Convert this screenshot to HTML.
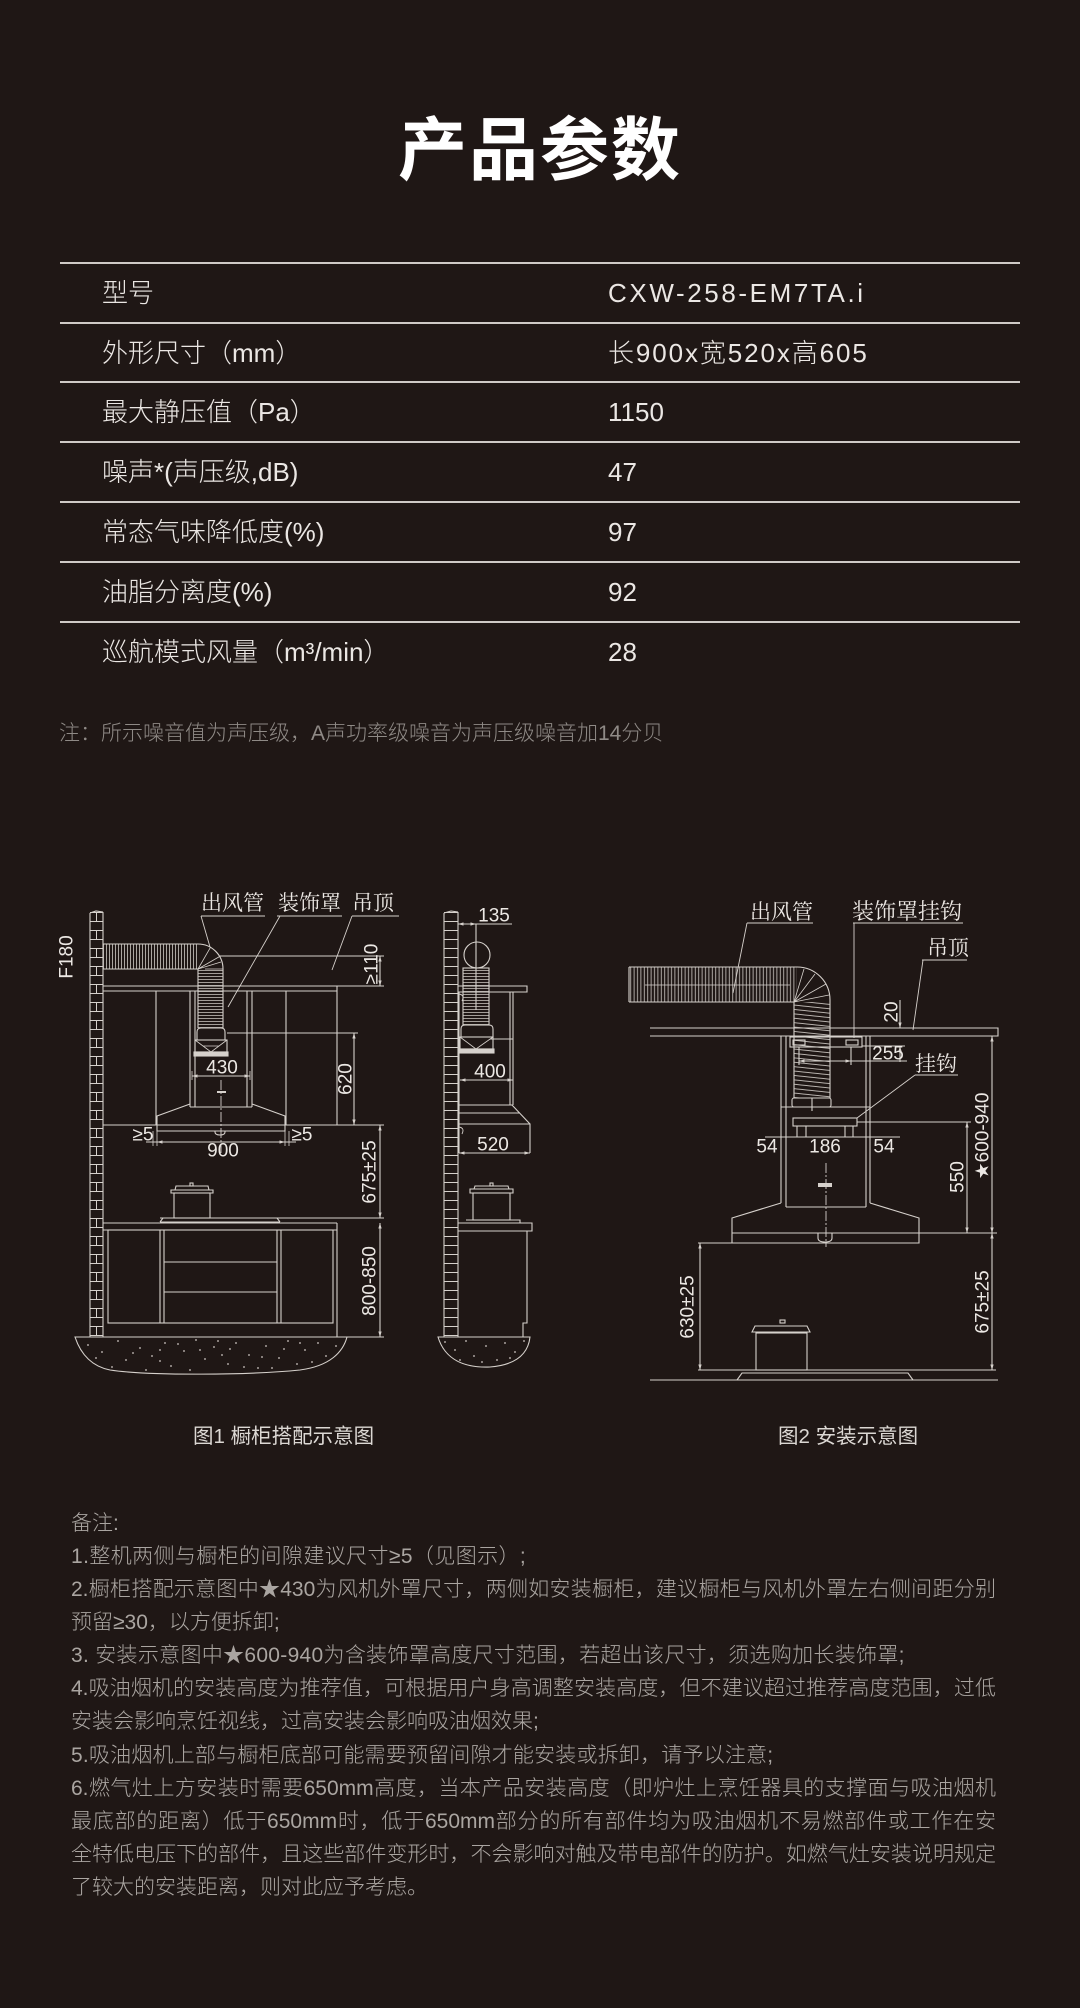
<!DOCTYPE html>
<html><head><meta charset="utf-8"><style>
html,body{margin:0;padding:0;background:#1f1715;}
body{width:1080px;height:2008px;position:relative;overflow:hidden;font-family:"Liberation Sans","Noto Sans CJK SC",sans-serif;}
.t{position:absolute;left:0;width:1080px;top:116px;height:70px;line-height:70px;text-align:center;color:#fff;font-size:69px;font-weight:bold;font-family:"Liberation Sans","Noto Sans CJK SC",sans-serif;letter-spacing:2px}
.hl{position:absolute;left:60px;width:960px;height:1.5px;background:#cfcac6}
.r{position:absolute;height:60px;line-height:60px;font-size:26px;color:#ebe7e4;font-weight:300;white-space:nowrap}
.lab{left:102px}.val{left:608px}
.note{position:absolute;left:59px;top:719px;line-height:30px;font-size:21px;color:#8f8a86;font-weight:300;white-space:nowrap}
.cap{position:absolute;top:1422px;line-height:30px;font-size:20.5px;color:#dcd8d4;white-space:nowrap}
.n{position:absolute;left:71px;height:33px;line-height:33px;font-size:21px;color:#aaa5a1;font-weight:300;white-space:nowrap}
.j{width:925px;text-align:justify;text-align-last:justify}
</style></head><body>
<div class="t">产品参数</div>

<div class="hl" style="top:262px"></div>
<div class="hl" style="top:322px"></div>
<div class="hl" style="top:381px"></div>
<div class="hl" style="top:441px"></div>
<div class="hl" style="top:501px"></div>
<div class="hl" style="top:561px"></div>
<div class="hl" style="top:621px"></div>

<div class="r lab" style="top:263px">型号</div><div class="r val" style="top:263px;letter-spacing:2.6px">CXW-258-EM7TA.i</div>
<div class="r lab" style="top:323px">外形尺寸（mm）</div><div class="r val" style="top:323px;letter-spacing:1.9px">长900x宽520x高605</div>
<div class="r lab" style="top:382px">最大静压值（Pa）</div><div class="r val" style="top:382px">1150</div>
<div class="r lab" style="top:442px">噪声*(声压级,dB)</div><div class="r val" style="top:442px">47</div>
<div class="r lab" style="top:502px">常态气味降低度(%)</div><div class="r val" style="top:502px">97</div>
<div class="r lab" style="top:562px">油脂分离度(%)</div><div class="r val" style="top:562px">92</div>
<div class="r lab" style="top:622px">巡航模式风量（m³/min）</div><div class="r val" style="top:622px">28</div>

<div class="note">注：所示噪音值为声压级，A声功率级噪音为声压级噪音加14分贝</div>

<svg width="1080" height="2008" viewBox="0 0 1080 2008" style="position:absolute;left:0;top:0">
<defs>
<marker id="a" viewBox="0 0 10 10" refX="10" refY="5" markerWidth="5" markerHeight="5" orient="auto-start-reverse"><path d="M0,2 L10,5 L0,8z" fill="#d6d1cc"/></marker>
<pattern id="lad1" x="90" y="912" width="13" height="18" patternUnits="userSpaceOnUse"><path d="M0,0.5H13M0,9.5H13M6.5,0.5V9.5" stroke="#d6d1cc" stroke-width="1" fill="none"/></pattern>
<pattern id="lad2" x="444" y="912" width="14" height="9" patternUnits="userSpaceOnUse"><path d="M0,0.5H14" stroke="#d6d1cc" stroke-width="1" fill="none"/></pattern>
<pattern id="hv" x="0" y="0" width="3" height="50" patternUnits="userSpaceOnUse"><path d="M1.5,0V50" stroke="#cfcac5" stroke-width="0.8"/></pattern>
<pattern id="hh" x="0" y="0" width="50" height="3" patternUnits="userSpaceOnUse"><path d="M0,1.5H50" stroke="#cfcac5" stroke-width="0.8"/></pattern>
<pattern id="hv2" x="0" y="0" width="3.4" height="50" patternUnits="userSpaceOnUse"><path d="M1.7,0V50" stroke="#cfcac5" stroke-width="0.8"/></pattern>
<pattern id="hh2" x="0" y="0" width="50" height="4.4" patternUnits="userSpaceOnUse" patternTransform="skewY(6)"><path d="M0,2H50" stroke="#cfcac5" stroke-width="0.8"/></pattern>
</defs>

<g stroke="#d6d1cc" stroke-width="1.1" fill="none">
<!-- ===== FIG 1 front ===== -->
<rect x="90" y="912" width="13" height="425" fill="url(#lad1)" stroke="none"/>
<path d="M90,913 L90,1337 M103,912 L103,1337 M90,913 L96,911 L103,912"/>
<rect x="103" y="944" width="95" height="25" fill="url(#hv)" stroke="none"/>
<path d="M103,944 H198 A25,25 0 0 1 223,969 V1028 M103,969 H198 V1028"/>
<path d="M198,969 L219.6,956.5 M198,969 L210.5,947.3 M198,969 L221,962 M205,969 L223,969" stroke-width="0.8"/>
<rect x="198" y="969" width="25" height="59" fill="url(#hh)" stroke="none"/>
<path d="M197,1040 V1032 Q197,1028 201,1028 H221 Q225,1028 225,1032 V1040"/>
<rect x="195" y="1040" width="32" height="12"/>
<path d="M195,1040 L211,1052 L227,1040 M203,1046 H219" stroke-width="0.8"/>
<rect x="194" y="1052" width="34" height="4" fill="#d6d1cc"/>
<path d="M103,986 H384 M103,991 H337"/>
<path d="M220,956 H384"/>
<line x1="380" y1="956" x2="380" y2="986" marker-start="url(#a)" marker-end="url(#a)"/>
<path d="M156,991 V1125 M190,991 V1107 M195,991 V1107 M247,991 V1107 M252,991 V1107 M190,1107 H252"/>
<path d="M190,1104 L157,1116 V1125 M252,1104 L285,1116 V1125"/>
<path d="M286,991 V1125 M337,986 V1125"/>
<path d="M103,1125 H384 M157,1125 V1131 H285 V1125"/>
<path d="M215,1131 V1132 Q215,1135 220,1135 Q225,1135 225,1132 V1131"/>
<path d="M221,1080 V1153" stroke-dasharray="10 2 2 2" stroke-width="0.9"/>
<rect x="217" y="1091" width="9" height="2" fill="#d6d1cc" stroke="none"/>
<path d="M227,1033 H358"/>
<line x1="354" y1="1033" x2="354" y2="1125" marker-start="url(#a)" marker-end="url(#a)"/>
<path d="M192,1071 V1080 M250,1071 V1080" stroke-width="0.8"/>
<line x1="192" y1="1076" x2="250" y2="1076" marker-start="url(#a)" marker-end="url(#a)"/>
<path d="M153,1131 V1146 M157,1131 V1146 M285,1131 V1146 M289,1131 V1146" stroke-width="0.8"/>
<line x1="157" y1="1142" x2="285" y2="1142" marker-start="url(#a)" marker-end="url(#a)"/>
<path d="M146,1142 H157 M285,1142 H296"/>
<line x1="380" y1="1125" x2="380" y2="1218" marker-start="url(#a)" marker-end="url(#a)"/>
<line x1="380" y1="1223" x2="380" y2="1337" marker-start="url(#a)" marker-end="url(#a)"/>
<path d="M160,1218 H384 M347,1337 H384"/>
<path d="M160,1222 L163,1218 M277,1218 L280,1222 M160,1222 H280"/>
<rect x="174" y="1193" width="36" height="25"/>
<path d="M171,1193 V1190 H213 V1193 Z M175,1190 L176,1186 H208 L209,1190"/>
<rect x="190" y="1183" width="3" height="3"/>
<path d="M103,1223 H337 M103,1230 H337"/>
<rect x="108" y="1230" width="225" height="93"/>
<path d="M160,1230 V1323 M164,1230 V1323 M277,1230 V1323 M281,1230 V1323 M164,1262 H277 M164,1292 H277 M337,1223 V1337"/>
<path d="M75,1337 H347 C343,1352 330,1366 300,1370 C250,1375 150,1376 110,1370 C90,1366 80,1352 75,1337 Z"/>

<!-- ===== FIG 1 side ===== -->
<rect x="444" y="912" width="14" height="425" fill="url(#lad2)" stroke="none"/>
<path d="M444,913 V1337 M458,912 V1337 M444,913 L451,911 L458,912"/>
<line x1="458" y1="924" x2="476" y2="924" marker-start="url(#a)" marker-end="url(#a)"/>
<path d="M476,924 H512 M476,924 V1010"/>
<circle cx="477" cy="955" r="13"/>
<rect x="463" y="968" width="26" height="57" fill="url(#hh)"/>
<path d="M458,986 H527 V992 H458"/>
<path d="M510,992 V1105 M513,992 V1105"/>
<path d="M461,1037 V1029 Q461,1025 465,1025 H489 Q493,1025 493,1029 V1037"/>
<rect x="460" y="1037" width="33" height="12"/>
<path d="M460,1037 L476,1049 L493,1037" stroke-width="0.8"/>
<rect x="459" y="1049" width="35" height="4" fill="#d6d1cc"/>
<path d="M490,1039 H513"/>
<line x1="460" y1="1080" x2="513" y2="1080" marker-start="url(#a)" marker-end="url(#a)"/>
<path d="M459,992 V1153 M459,1105 H512 L530,1124 M459,1113 H520 M459,1124 H530 V1153"/>
<line x1="459" y1="1153" x2="530" y2="1153" marker-start="url(#a)" marker-end="url(#a)"/>
<path d="M459,994 Q465,995 462,1001 M459,1127 Q465,1128 462,1134" stroke-width="0.9"/>
<rect x="473" y="1193" width="37" height="27"/>
<path d="M470,1193 V1189 H513 V1193 Z M474,1189 L475,1186 H508 L509,1189"/>
<rect x="490" y="1183" width="3" height="3"/>
<path d="M466,1220 H520 V1223"/>
<path d="M458,1223 H532 V1231 H458"/>
<path d="M527,1231 V1323 H523 V1337"/>
<path d="M438,1337 H530 C528,1355 515,1365 490,1367 C465,1368 445,1360 438,1337 Z"/>

<path d="M201,916 H265 M277,916 H342 M352,916 H399"/>
<path d="M201,916 L210,947 M280,916 L228,1007 M352,916 L332,970" stroke-width="0.9"/>

<!-- ===== FIG 2 ===== -->
<path d="M747,923 H813 M853,923 H963 M922,960 H967 M915,1075 H958"/>
<path d="M747,923 L733,993 M854,923 V1038 M923,960 L913,1030 M915,1075 L857,1118" stroke-width="0.9"/>
<rect x="629" y="967" width="168" height="35" fill="url(#hv2)" stroke="none"/>
<path d="M629,967 H797 A33,33 0 0 1 830,1000 V1098 M629,1002 H794 V1098 M629,967 V1002"/>
<path d="M645,985 H790" stroke-width="0.7"/>
<path d="M794,1002 L826,984 M794,1002 L815,974 M794,1002 L804,969 M794,1002 L829,995" stroke-width="0.8"/>
<rect x="794" y="1002" width="36" height="96" fill="url(#hh2)" stroke="none"/>
<rect x="792" y="1098" width="39" height="9" rx="2"/>
<path d="M650,1028 H998 V1036 H650"/>
<path d="M781,1036 V1203 M786,1036 V1207 M866,1036 V1207 M870,1036 V1203"/>
<rect x="790" y="1037" width="72" height="10"/>
<rect x="793" y="1040" width="12" height="5"/><rect x="846" y="1040" width="12" height="5"/>
<path d="M799,1047 V1065 M851,1047 V1065"/>
<line x1="799" y1="1061" x2="851" y2="1061" marker-start="url(#a)" marker-end="url(#a)"/>
<path d="M851,1061 H907 M862,1046 H905"/>
<line x1="900" y1="1000" x2="900" y2="1028" marker-end="url(#a)"/>
<line x1="900" y1="1062" x2="900" y2="1046" marker-end="url(#a)"/>
<path d="M781,1107 H870 M812,1098 V1111"/>
<rect x="793" y="1118" width="64" height="8"/>
<path d="M797,1126 V1137 M806,1126 V1137 M845,1126 V1137 M853,1126 V1137"/>
<path d="M765,1137 H900" stroke-width="0.9"/>
<path d="M857,1122 H971"/>
<rect x="818" y="1183" width="14" height="4" fill="#d6d1cc" stroke="none"/>
<path d="M826,1163 V1247" stroke-dasharray="10 2 2 2" stroke-width="0.9"/>
<path d="M781,1203 L732,1218 V1243 H919 V1218 L870,1203 M786,1207 H866"/>
<path d="M732,1233 H997"/>
<path d="M818,1233 V1238 Q818,1242 825,1242 Q832,1242 832,1238 V1233"/>
<line x1="967" y1="1122" x2="967" y2="1233" marker-start="url(#a)" marker-end="url(#a)"/>
<line x1="992" y1="1036" x2="992" y2="1233" marker-start="url(#a)" marker-end="url(#a)"/>
<line x1="992" y1="1233" x2="992" y2="1370" marker-start="url(#a)" marker-end="url(#a)"/>
<path d="M698,1243 H732"/>
<line x1="700" y1="1243" x2="700" y2="1370" marker-start="url(#a)" marker-end="url(#a)"/>
<rect x="780" y="1320" width="5" height="3"/>
<path d="M752,1332 L755,1326 H807 L810,1332 Z"/>
<rect x="756" y="1333" width="51" height="37"/>
<path d="M737,1380 L742,1373 H908 L913,1380"/>
<path d="M698,1370 H996 M650,1380 H998"/>
</g>

<g fill="#cfc9c4">
<circle cx="88" cy="1345" r=".9"/><circle cx="102" cy="1352" r=".9"/><circle cx="118" cy="1341" r=".9"/><circle cx="126" cy="1360" r=".9"/><circle cx="140" cy="1348" r=".9"/><circle cx="152" cy="1356" r=".9"/><circle cx="165" cy="1343" r=".9"/><circle cx="171" cy="1366" r=".9"/><circle cx="184" cy="1351" r=".9"/><circle cx="196" cy="1340" r=".9"/><circle cx="205" cy="1359" r=".9"/><circle cx="214" cy="1347" r=".9"/><circle cx="228" cy="1364" r=".9"/><circle cx="236" cy="1343" r=".9"/><circle cx="249" cy="1355" r=".9"/><circle cx="258" cy="1368" r=".9"/><circle cx="266" cy="1346" r=".9"/><circle cx="279" cy="1358" r=".9"/><circle cx="288" cy="1341" r=".9"/><circle cx="297" cy="1364" r=".9"/><circle cx="305" cy="1350" r=".9"/><circle cx="318" cy="1343" r=".9"/><circle cx="326" cy="1356" r=".9"/><circle cx="112" cy="1367" r=".9"/><circle cx="146" cy="1370" r=".9"/><circle cx="190" cy="1370" r=".9"/><circle cx="222" cy="1355" r=".9"/><circle cx="244" cy="1367" r=".9"/><circle cx="272" cy="1368" r=".9"/><circle cx="312" cy="1362" r=".9"/><circle cx="96" cy="1358" r=".9"/><circle cx="133" cy="1353" r=".9"/><circle cx="160" cy="1361" r=".9"/><circle cx="178" cy="1344" r=".9"/><circle cx="200" cy="1350" r=".9"/><circle cx="218" cy="1341" r=".9"/><circle cx="262" cy="1357" r=".9"/><circle cx="284" cy="1349" r=".9"/><circle cx="300" cy="1343" r=".9"/><circle cx="336" cy="1346" r=".9"/><circle cx="160" cy="1350" r=".9"/><circle cx="230" cy="1349" r=".9"/>
<circle cx="445" cy="1342" r=".9"/><circle cx="455" cy="1350" r=".9"/><circle cx="466" cy="1341" r=".9"/><circle cx="474" cy="1356" r=".9"/><circle cx="486" cy="1346" r=".9"/><circle cx="497" cy="1360" r=".9"/><circle cx="505" cy="1343" r=".9"/><circle cx="515" cy="1352" r=".9"/><circle cx="524" cy="1341" r=".9"/><circle cx="460" cy="1360" r=".9"/><circle cx="482" cy="1362" r=".9"/><circle cx="510" cy="1358" r=".9"/>
</g>

<g fill="#ece8e4" font-family="'Noto Serif CJK SC','Noto Sans CJK SC',serif" font-size="21">
<text x="201" y="910">出风管</text>
<text x="278" y="910">装饰罩</text>
<text x="352" y="910">吊顶</text>
<text x="750" y="919">出风管</text>
<text x="852" y="919" font-size="22">装饰罩挂钩</text>
<text x="927" y="955">吊顶</text>
<text x="915" y="1071">挂钩</text>
</g>

<g fill="#ece8e4" font-family="'Liberation Sans','DejaVu Sans',sans-serif" font-size="19" text-anchor="middle" dominant-baseline="central">
<text transform="translate(67,957) rotate(-90)">F180</text>
<text transform="translate(372,964) rotate(-90)">≥110</text>
<text transform="translate(346,1079) rotate(-90)">620</text>
<text x="222" y="1068">430</text>
<text x="143" y="1135">≥5</text>
<text x="302" y="1135">≥5</text>
<text x="223" y="1151">900</text>
<text transform="translate(370,1172) rotate(-90)">675±25</text>
<text transform="translate(370,1281) rotate(-90)">800-850</text>
<text x="494" y="916">135</text>
<text x="490" y="1072">400</text>
<text x="493" y="1145">520</text>
<text transform="translate(892,1012) rotate(-90)">20</text>
<text x="888" y="1054">255</text>
<text x="767" y="1147">54</text>
<text x="825" y="1147">186</text>
<text x="884" y="1147">54</text>
<text transform="translate(958,1177) rotate(-90)">550</text>
<text transform="translate(983,1136) rotate(-90)">★600-940</text>
<text transform="translate(983,1302) rotate(-90)">675±25</text>
<text transform="translate(688,1307) rotate(-90)">630±25</text>
</g>
</svg>

<div class="cap" style="left:193px">图1 橱柜搭配示意图</div>
<div class="cap" style="left:778px">图2 安装示意图</div>

<div class="n" style="top:1507px">备注:</div>
<div class="n" style="top:1540px;letter-spacing:0.4px">1.整机两侧与橱柜的间隙建议尺寸≥5（见图示）;</div>
<div class="n j" style="top:1573px">2.橱柜搭配示意图中★430为风机外罩尺寸，两侧如安装橱柜，建议橱柜与风机外罩左右侧间距分别</div>
<div class="n" style="top:1606px">预留≥30，以方便拆卸;</div>
<div class="n" style="top:1639px;letter-spacing:0.3px">3. 安装示意图中★600-940为含装饰罩高度尺寸范围，若超出该尺寸，须选购加长装饰罩;</div>
<div class="n j" style="top:1672px">4.吸油烟机的安装高度为推荐值，可根据用户身高调整安装高度，但不建议超过推荐高度范围，过低</div>
<div class="n" style="top:1705px">安装会影响烹饪视线，过高安装会影响吸油烟效果;</div>
<div class="n" style="top:1739px;letter-spacing:0.2px">5.吸油烟机上部与橱柜底部可能需要预留间隙才能安装或拆卸，请予以注意;</div>
<div class="n j" style="top:1772px">6.燃气灶上方安装时需要650mm高度，当本产品安装高度（即炉灶上烹饪器具的支撑面与吸油烟机</div>
<div class="n j" style="top:1805px">最底部的距离）低于650mm时，低于650mm部分的所有部件均为吸油烟机不易燃部件或工作在安</div>
<div class="n j" style="top:1838px">全特低电压下的部件，且这些部件变形时，不会影响对触及带电部件的防护。如燃气灶安装说明规定</div>
<div class="n" style="top:1871px">了较大的安装距离，则对此应予考虑。</div>
</body></html>
